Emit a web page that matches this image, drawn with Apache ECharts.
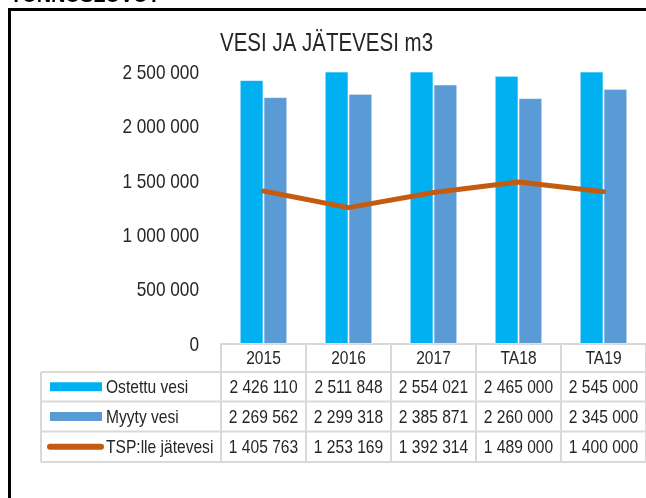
<!DOCTYPE html>
<html>
<head>
<meta charset="utf-8">
<style>
  html, body { margin: 0; padding: 0; background: #fff; }
  #chart { width: 646px; height: 498px; }
</style>
<script src="https://cdn.jsdelivr.net/npm/echarts@6/dist/echarts.min.js"></script>
</head>
<body>
<div id="chart"></div>
<script>
"use strict";
// data
var categories = ["2015", "2016", "2017", "TA18", "TA19"];
var ostettuVesi = [2426110, 2511848, 2554021, 2465000, 2545000];
var myytyVesi = [2269562, 2299318, 2385871, 2260000, 2345000];
var tspJatevesi = [1405763, 1253169, 1392314, 1489000, 1400000];
var seriesNames = ["Ostettu vesi", "Myyty vesi", "TSP:lle jätevesi"];
var yTicks = [0, 500000, 1000000, 1500000, 2000000, 2500000];

// no narrow font installed -> Liberation Sans squeezed horizontally
var FONT = "'Liberation Sans', Arial, sans-serif";
var NARROW = 0.82;
var C_OST = "#00B0F0", C_MYY = "#5B9BD5", C_TSP = "#C55A11", C_GRID = "#D9D9D9", C_TXT = "#262626";

function fmt(v) {
  return String(v).replace(/\B(?=(\d{3})+(?!\d))/g, " ");
}

var chart = echarts.init(document.getElementById("chart"));

chart.setOption({
  animation: false,
  backgroundColor: "#fff",
  grid: {left: 221, right: -6, top: 72, bottom: 154, containLabel: false},
  xAxis: {
    type: "category",
    data: categories,
    axisLine: {lineStyle: {color: C_GRID, width: 2}},
    axisTick: {show: false},
    axisLabel: {show: false}
  },
  yAxis: {
    type: "value",
    min: yTicks[0], max: yTicks[yTicks.length - 1], interval: 500000,
    splitLine: {show: false},
    axisLine: {show: false},
    axisTick: {show: false},
    axisLabel: {show: false}
  },
  series: [
    {
      name: seriesNames[0], type: "bar", data: ostettuVesi, clip: true,
      barGap: "0%", barCategoryGap: "44%",
      itemStyle: {color: C_OST, borderColor: "rgba(255,255,255,0.6)", borderWidth: 1}
    },
    {
      name: seriesNames[1], type: "bar", data: myytyVesi, clip: true,
      itemStyle: {color: C_MYY, borderColor: "rgba(255,255,255,0.6)", borderWidth: 1}
    },
    {
      name: seriesNames[2], type: "line", data: tspJatevesi,
      symbol: "none", z: 5,
      lineStyle: {color: C_TSP, width: 5, cap: "round", join: "round"}
    }
  ]
});

/** texts, data table and frame **/
function buildTable() {
  var c0 = chart.convertToPixel({xAxisIndex: 0}, 0);
  var c1 = chart.convertToPixel({xAxisIndex: 0}, 1);
  var cw = c1 - c0;
  var xStart = c0 - cw / 2;
  var xEnd = xStart + cw * categories.length;
  var axisY = chart.convertToPixel({yAxisIndex: 0}, 0);
  var tblLeft = 41;
  var rowsY = [axisY, axisY + 28, axisY + 57.5, axisY + 87.5, axisY + 118];
  var g = [];
  var line = function (x1, y1, x2, y2) {
    g.push({type: "line", shape: {x1: x1, y1: y1, x2: x2, y2: y2},
      style: {stroke: C_GRID, lineWidth: 2}, z: 1});
  };
  var text = function (s, x, y, align, size) {
    g.push({type: "text", x: x, y: y, z: 3, scaleX: NARROW,
      style: {text: s, font: (size || 19) + "px " + FONT, fill: C_TXT, align: align, verticalAlign: "middle"}});
  };
  // title
  text("VESI JA JÄTEVESI m3", 220, 44, "left", 25);
  // y tick labels
  yTicks.forEach(function (t) {
    text(fmt(t), 199, chart.convertToPixel({yAxisIndex: 0}, t) + 1, "right", 21);
  });
  // horizontal lines
  line(xStart, rowsY[1], xEnd, rowsY[1]);
  for (var r = 1; r < rowsY.length; r++) line(tblLeft, rowsY[r], xEnd, rowsY[r]);
  // vertical lines
  line(tblLeft, rowsY[1], tblLeft, rowsY[4]);
  for (var i = 0; i <= categories.length; i++) {
    var vx = xStart + i * cw;
    line(vx, rowsY[0], vx, rowsY[4]);
  }
  // header
  categories.forEach(function (c, j) {
    text(c, xStart + (j + 0.5) * cw, (rowsY[0] + rowsY[1]) / 2 + 1, "center");
  });
  var rows = [ostettuVesi, myytyVesi, tspJatevesi];
  rows.forEach(function (vals, k) {
    var cy = (rowsY[k + 1] + rowsY[k + 2]) / 2 + 1;
    vals.forEach(function (v, j) {
      text(fmt(v), xStart + (j + 0.5) * cw, cy, "center");
    });
    text(seriesNames[k], 106, cy, "left");
    if (k < 2) {
      g.push({type: "rect", shape: {x: 50, y: cy - 5.5, width: 52, height: 9},
        style: {fill: k === 0 ? C_OST : C_MYY}, z: 3});
    } else {
      g.push({type: "line", shape: {x1: 50, y1: cy - 1, x2: 101, y2: cy - 1},
        style: {stroke: C_TSP, lineWidth: 6, lineCap: "round"}, z: 3});
    }
  });
  // frame and clipped heading above it
  g.push({type: "rect", shape: {x: 9.5, y: 9.5, width: 700, height: 600},
    style: {fill: null, stroke: "#000", lineWidth: 3}, z: 0});
  g.push({type: "text", x: 10, y: 6, z: 3,
    style: {text: "TUNNUSLUVUT", font: "bold 20px " + FONT, fill: "#000",
      verticalAlign: "bottom"}});
  chart.setOption({graphic: g});
}
buildTable();
</script>
</body>
</html>
